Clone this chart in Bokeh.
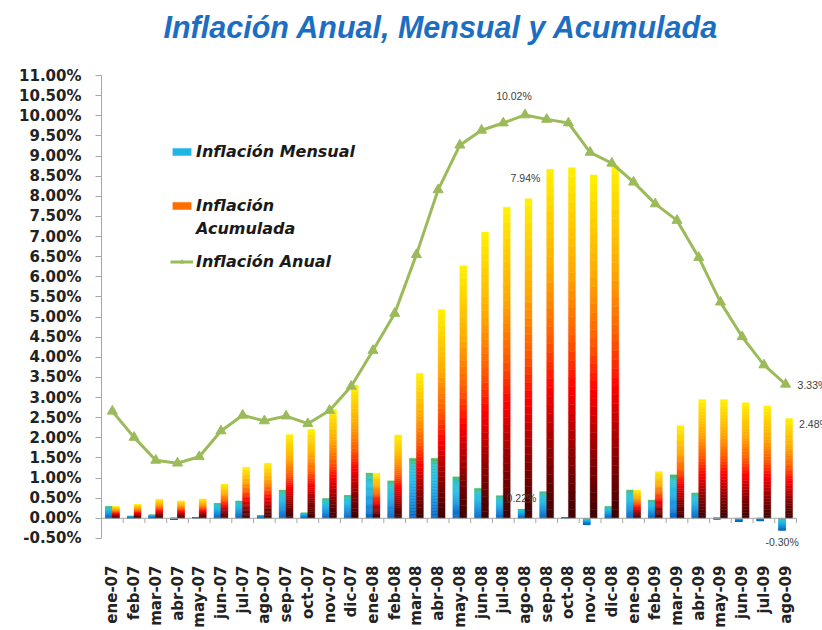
import math
from bokeh.plotting import figure
from bokeh.models import (Label, Legend, LegendItem, FixedTicker, Title,
                          PrintfTickFormatter, ColumnDataSource)
from bokeh.embed import file_html
from bokeh.resources import INLINE

# ---------------- data ----------------
categories = ["ene-07", "feb-07", "mar-07", "abr-07", "may-07", "jun-07", "jul-07", "ago-07",
              "sep-07", "oct-07", "nov-07", "dic-07", "ene-08", "feb-08", "mar-08", "abr-08",
              "may-08", "jun-08", "jul-08", "ago-08", "sep-08", "oct-08", "nov-08", "dic-08",
              "ene-09", "feb-09", "mar-09", "abr-09", "may-09", "jun-09", "jul-09", "ago-09"]

mensual = [0.29, 0.05, 0.08, -0.02, 0.02, 0.37, 0.43, 0.07, 0.70, 0.13, 0.49, 0.57,
           1.12, 0.93, 1.49, 1.49, 1.03, 0.74, 0.56, 0.22, 0.66, 0.01, -0.16, 0.29,
           0.70, 0.45, 1.08, 0.63, -0.01, -0.08, -0.06, -0.30]

acumulada = [0.29, 0.34, 0.47, 0.43, 0.48, 0.85, 1.27, 1.37, 2.08, 2.21, 2.71, 3.31,
             1.12, 2.07, 3.60, 5.18, 6.27, 7.11, 7.73, 7.94, 8.67, 8.71, 8.53, 8.76,
             0.70, 1.16, 2.30, 2.95, 2.95, 2.87, 2.79, 2.48]

anual = [2.66, 2.01, 1.44, 1.37, 1.53, 2.17, 2.56, 2.42, 2.54, 2.35, 2.68, 3.28,
         4.17, 5.09, 6.55, 8.16, 9.27, 9.64, 9.82, 10.02, 9.91, 9.82, 9.09, 8.82,
         8.35, 7.81, 7.40, 6.48, 5.37, 4.51, 3.81, 3.33]

y_ticks = [-0.5 + 0.5 * k for k in range(24)]

series_names = ["Inflación Mensual", "Inflación", "Acumulada", "Inflación Anual"]
title_text = "Inflación Anual, Mensual y Acumulada"

# ---------------- helpers ----------------
def hex2rgb(h):
    h = h.lstrip("#")
    return tuple(int(h[i:i + 2], 16) for i in (0, 2, 4))

def grad(stops, f):
    for (p0, c0), (p1, c1) in zip(stops[:-1], stops[1:]):
        if f <= p1:
            t = 0 if p1 == p0 else (f - p0) / (p1 - p0)
            a, b = hex2rgb(c0), hex2rgb(c1)
            return "#%02x%02x%02x" % tuple(int(round(a[k] + (b[k] - a[k]) * t)) for k in range(3))
    return stops[-1][1]

blue_stops = [(0.0, "#4CB848"), (0.12, "#2EC4C8"), (0.35, "#22BDE6"), (0.7, "#1690DE"), (1.0, "#0563C1")]
fire_stops = [(0.0, "#FFF200"), (0.3, "#FFA800"), (0.5, "#FF5500"), (0.63, "#FF0000"),
              (0.82, "#8E0000"), (1.0, "#3C0000")]

N_SLICES = 40

def gradient_bars(values, x_left, x_right, stops, n=N_SLICES):
    d = dict(left=[], right=[], top=[], bottom=[], color=[])
    for i, v in enumerate(values):
        top, bot = max(0.0, v), min(0.0, v)
        for k in range(n):
            t = top - (top - bot) * k / n
            b = top - (top - bot) * (k + 1) / n
            d["left"].append(i + x_left)
            d["right"].append(i + x_right)
            d["top"].append(t)
            d["bottom"].append(b)
            d["color"].append(grad(stops, (k + 0.5) / n))
    return ColumnDataSource(d)

ncat = len(categories)

# ---------------- figure ----------------
p = figure(width=822, height=630, x_range=(-0.5, ncat + 0.7), y_range=(-0.8, 11.0),
           output_backend="svg", toolbar_location=None, title=None,
           min_border_left=101, min_border_right=0, min_border_top=75, min_border_bottom=77)
p.xgrid.visible = False
p.ygrid.visible = False
p.outline_line_color = None
p.background_fill_color = "white"
p.border_fill_color = "white"

# spacer panel (closest to the frame), then the real title above it
p.add_layout(Title(text=" ", text_font_size="10px", standoff=17), "above")
p.add_layout(Title(text=title_text, align="left", vertical_align="top", offset=62, standoff=0,
                   text_font="Liberation Sans", text_font_style="bold italic",
                   text_font_size="30.5px", text_color="#1B6EC2"), "above")

# y axis
p.yaxis.ticker = FixedTicker(ticks=y_ticks)
p.yaxis.bounds = (y_ticks[0], y_ticks[-1])
p.yaxis.formatter = PrintfTickFormatter(format="%.2f%%")
p.yaxis.axis_line_color = "#A6A6A6"
p.yaxis.major_tick_line_color = "#A6A6A6"
p.yaxis.major_tick_in = 0
p.yaxis.major_tick_out = 6
p.yaxis.minor_tick_line_color = None
p.yaxis.major_label_text_font = "DejaVu Sans"
p.yaxis.major_label_text_font_style = "bold"
p.yaxis.major_label_text_font_size = "15px"
p.yaxis.major_label_text_color = "#222222"
p.yaxis.major_label_standoff = 14

# x axis (labels only)
idx = list(range(ncat))
p.xaxis.ticker = FixedTicker(ticks=idx)
p.xaxis.major_label_overrides = {i: c for i, c in enumerate(categories)}
p.xaxis.major_label_orientation = math.pi / 2
p.xaxis.axis_line_color = None
p.xaxis.major_tick_line_color = None
p.xaxis.minor_tick_line_color = None
p.xaxis.major_label_text_font = "DejaVu Sans"
p.xaxis.major_label_text_font_style = "bold"
p.xaxis.major_label_text_font_size = "15px"
p.xaxis.major_label_text_color = "#222222"
p.xaxis.major_label_standoff = 9

# bars
src_m = gradient_bars(mensual, -0.32, 0.0, blue_stops)
src_a = gradient_bars(acumulada, 0.0, 0.32, fire_stops)
r_m = p.quad(left="left", right="right", top="top", bottom="bottom", fill_color="color",
             line_color="color", line_width=0.4, source=src_m)
r_a = p.quad(left="left", right="right", top="top", bottom="bottom", fill_color="color",
             line_color="color", line_width=0.4, source=src_a)

# category axis at zero
bounds = [i - 0.5 for i in range(ncat + 1)]
p.segment(x0=[bounds[0]], y0=[0], x1=[bounds[-1]], y1=[0], line_color="#A6A6A6", line_width=1)
p.segment(x0=bounds, y0=[0] * len(bounds), x1=bounds, y1=[-0.12] * len(bounds),
          line_color="#A6A6A6", line_width=1)

# annual line
green = "#9BBB59"
r_line = p.line(idx, anual, line_color=green, line_width=3)
r_pts = p.scatter(idx, anual, marker="triangle", size=10, fill_color=green, line_color=green)

# data labels
lab_style = dict(text_font="Liberation Sans", text_font_size="10.5px", text_color="#404040",
                 text_align="center", text_baseline="middle")
j = categories.index("ago-08")
last = ncat - 1
p.add_layout(Label(x=j, y=anual[j], text="%.2f%%" % anual[j], x_offset=-11, y_offset=19, **lab_style))
p.add_layout(Label(x=j + 0.16, y=acumulada[j], text="%.2f%%" % acumulada[j], x_offset=-3, y_offset=21, **lab_style))
p.add_layout(Label(x=j - 0.16, y=mensual[j], text="%.2f%%" % mensual[j], x_offset=0, y_offset=11, **lab_style))
p.add_layout(Label(x=last - 0.16, y=mensual[last], text="%.2f%%" % mensual[last], x_offset=0, y_offset=-12, **lab_style))
side = dict(lab_style, text_align="left")
p.add_layout(Label(x=last, y=anual[last], text="%.2f%%" % anual[last], x_offset=12, y_offset=-1, **side))
p.add_layout(Label(x=last + 0.16, y=acumulada[last], text="%.2f%%" % acumulada[last], x_offset=10, y_offset=-6, **side))

# legend (separate boxes so the two-line entry keeps its swatch on the first line)
leg_style = dict(label_text_font="DejaVu Sans", label_text_font_style="bold italic",
                 label_text_font_size="16px", label_text_color="#1a1a1a",
                 glyph_width=23, glyph_height=9, label_standoff=3, padding=0, margin=0,
                 border_line_color=None, background_fill_alpha=0, spacing=0)
for name, rends, ix, loc, gw in [(series_names[0], [r_m], 16, (69, 389), 23),
                                 (series_names[1], [r_a], 17, (69, 335), 23),
                                 (series_names[2], [r_a], 17, (69, 312), 0),
                                 (series_names[3], [r_line, r_pts], None, (69, 279), 23)]:
    item = LegendItem(label=name, renderers=rends, index=ix)
    style = dict(leg_style, glyph_width=gw, label_standoff=3 + 23 - gw)
    p.add_layout(Legend(items=[item], location=loc, **style), "center")

open("out.html", "w").write(file_html(p, INLINE))
